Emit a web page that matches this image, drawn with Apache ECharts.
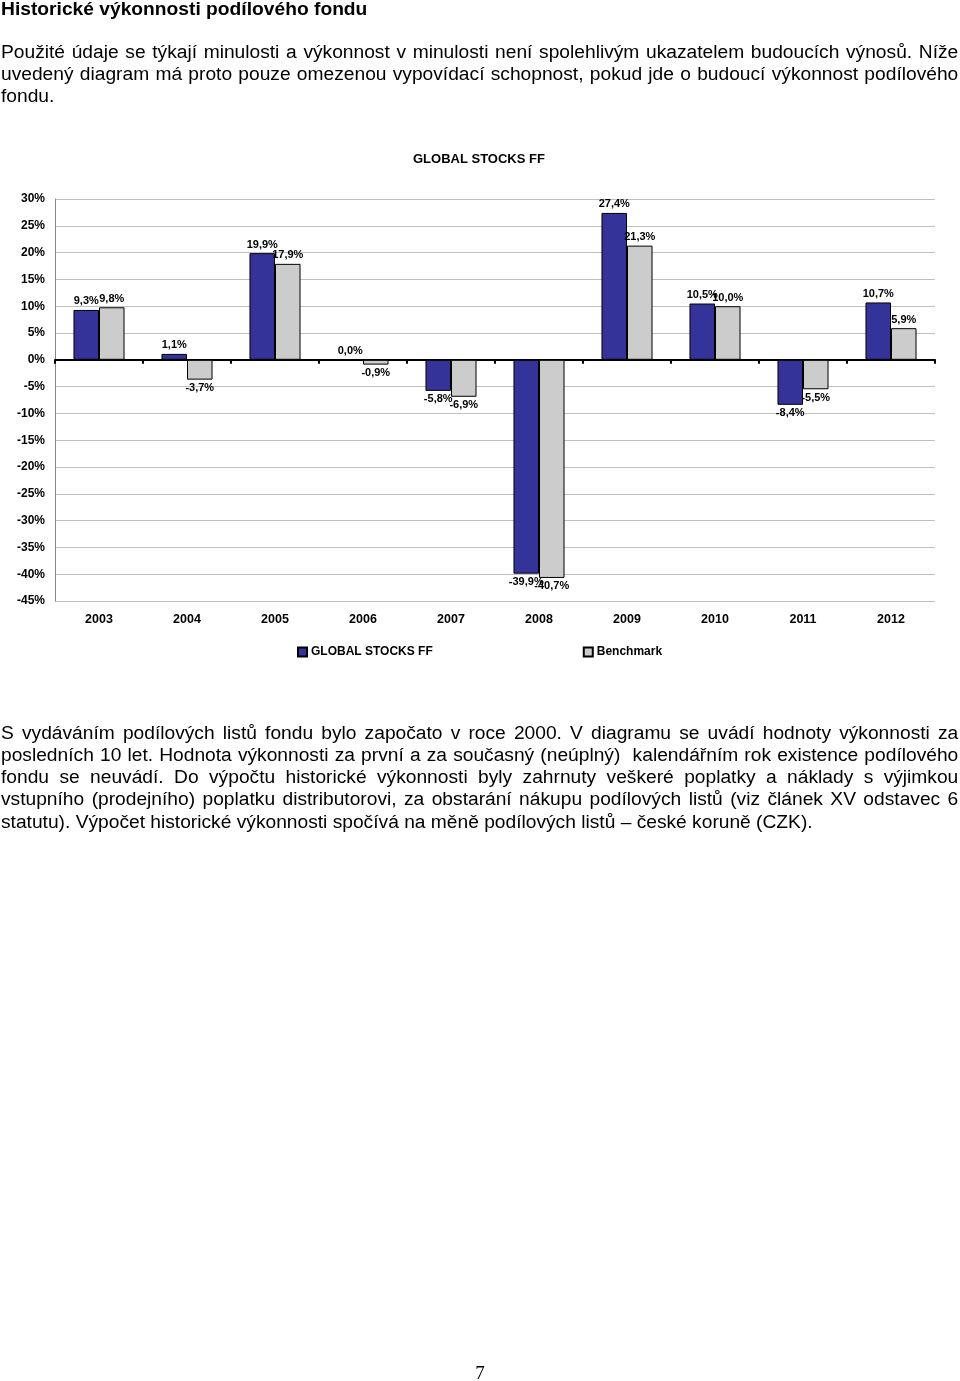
<!DOCTYPE html>
<html>
<head>
<meta charset="utf-8">
<script src="https://cdn.jsdelivr.net/npm/echarts@6/dist/echarts.min.js"></script>
<style>
  html, body { margin: 0; padding: 0; background: #fff; }
  body { width: 960px; height: 1381px; position: relative; overflow: hidden; font-family: "Liberation Sans", Arial, sans-serif; color: #000; }
  #chart { position: absolute; left: 0; top: 0; width: 960px; height: 1381px; }
  .t { position: absolute; left: 1px; width: 898px; font-size: 18px; line-height: 22px; white-space: nowrap; z-index: 2; transform: scaleX(1.066); transform-origin: 0 0; }
  .j { text-align: justify; text-align-last: justify; }
  .h { font-weight: bold; font-size: 18px; transform: scaleX(1.068); }
  .pg { position: absolute; left: 0; width: 960px; text-align: center; top: 1362px; font-family: "Liberation Serif", "Times New Roman", serif; font-size: 19px; z-index: 2; }
</style>
</head>
<body>
<div id="chart"></div>
<div class="t h" style="top:-2px">Historické výkonnosti podílového fondu</div>
<div class="t j" style="top:41px">Použité údaje se týkají minulosti a výkonnost v minulosti není spolehlivým ukazatelem budoucích výnosů. Níže</div>
<div class="t j" style="top:63px">uvedený diagram má proto pouze omezenou vypovídací schopnost, pokud jde o budoucí výkonnost podílového</div>
<div class="t" style="top:85px">fondu.</div>
<div class="t j" style="top:722px">S vydáváním podílových listů fondu bylo započato v roce 2000. V diagramu se uvádí hodnoty výkonnosti za</div>
<div class="t j" style="top:744px">posledních 10 let. Hodnota výkonnosti za první a za současný (neúplný)&nbsp; kalendářním rok existence podílového</div>
<div class="t j" style="top:766px">fondu se neuvádí. Do výpočtu historické výkonnosti byly zahrnuty veškeré poplatky a náklady s výjimkou</div>
<div class="t j" style="top:788px">vstupního (prodejního) poplatku distributorovi, za obstarání nákupu podílových listů (viz článek XV odstavec 6</div>
<div class="t" style="top:811px">statutu). Výpočet historické výkonnosti spočívá na měně podílových listů – české koruně (CZK).</div>
<div class="pg">7</div>
<script>
const years = ['2003','2004','2005','2006','2007','2008','2009','2010','2011','2012'];
const fundValues = [9.3, 1.1, 19.9, 0.0, -5.8, -39.9, 27.4, 10.5, -8.4, 10.7];
const benchmarkValues = [9.8, -3.7, 17.9, -0.9, -6.9, -40.7, 21.3, 10.0, -5.5, 5.9];
const seriesNames = ['GLOBAL STOCKS FF', 'Benchmark'];
const chartTitle = 'GLOBAL STOCKS FF';
const yMin = -45, yMax = 30, yStep = 5;

const FONT = '"Liberation Sans", Arial, sans-serif';
const fmt = v => v.toFixed(1).replace('.', ',') + '%';
const toItems = arr => arr.map(v => ({ value: v, label: { position: v >= 0 ? 'top' : 'outside' } }));

const chart = echarts.init(document.getElementById('chart'), null, { renderer: 'canvas' });
const labelStyle = {
  show: true,
  position: 'outside',
  distance: 3,
  fontFamily: FONT,
  fontWeight: 'bold',
  fontSize: 11,
  color: '#000',
  formatter: p => fmt(p.value)
};
chart.setOption({
  animation: false,
  backgroundColor: '#fff',
  title: {
    text: chartTitle,
    left: 408,
    top: 148,
    textStyle: { fontFamily: FONT, fontWeight: 'bold', fontSize: 13, color: '#000' }
  },
  legend: {
    data: seriesNames,
    left: 292,
    top: 641,
    icon: 'rect',
    itemWidth: 9,
    itemHeight: 9,
    itemGap: 150,
    textStyle: { fontFamily: FONT, fontWeight: 'bold', fontSize: 12, color: '#000', padding: [0, 0, 0, -1] }
  },
  grid: { left: 55, right: 25, top: 199, bottom: 780, containLabel: false },
  xAxis: [
    {
      type: 'category',
      data: years,
      position: 'bottom',
      axisLine: { show: false, onZero: false },
      axisTick: { show: false },
      axisLabel: { fontFamily: FONT, fontWeight: 'bold', fontSize: 12.5, color: '#000', margin: 12 },
      splitLine: { show: false }
    },
    {
      type: 'category',
      data: years,
      position: 'top',
      axisLine: { show: true, onZero: true, lineStyle: { color: '#000', width: 2 } },
      axisTick: { show: true, inside: true, length: 4, lineStyle: { color: '#000', width: 2 } },
      axisLabel: { show: false },
      splitLine: { show: false }
    }
  ],
  yAxis: {
    type: 'value',
    min: yMin,
    max: yMax,
    interval: yStep,
    axisLine: { show: true, onZero: false, lineStyle: { color: '#888', width: 1 } },
    axisTick: { show: false },
    axisLabel: { fontFamily: FONT, fontWeight: 'bold', fontSize: 12, color: '#000', margin: 10, formatter: '{value}%' },
    splitLine: { show: true, lineStyle: { color: '#c0c0c0', width: 1 } }
  },
  series: [
    {
      name: seriesNames[0],
      type: 'bar',
      xAxisIndex: 0,
      data: toItems(fundValues),
      barGap: '0%',
      barCategoryGap: '42%',
      itemStyle: { color: '#333399', borderColor: '#000', borderWidth: 1 },
      label: labelStyle
    },
    {
      name: seriesNames[1],
      type: 'bar',
      xAxisIndex: 0,
      data: toItems(benchmarkValues),
      barGap: '0%',
      barCategoryGap: '42%',
      itemStyle: { color: '#cccccc', borderColor: '#000', borderWidth: 1 },
      label: labelStyle
    }
  ]
});
</script>
</body>
</html>
